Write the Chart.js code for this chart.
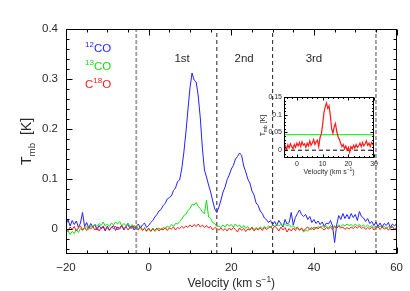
<!DOCTYPE html>
<html><head><meta charset="utf-8">
<script src="https://cdn.jsdelivr.net/npm/chart.js@4"></script>
<style>
html,body{margin:0;padding:0;background:#fff;}
#wrap{position:relative;width:410px;height:291px;overflow:hidden;}
#main{position:absolute;left:0;top:0;}
#inset{position:absolute;left:250px;top:88px;}
</style>
</head><body>
<div id="wrap"><canvas id="main" width="410" height="291"></canvas><canvas id="inset" width="130" height="90"></canvas></div>
<script>
// ---------- DATA ----------
const velocity = [-20,-19.5,-19,-18.5,-18,-17.5,-17,-16.5,-16,-15.5,-15,-14.5,-14,-13.5,-13,-12.5,-12,-11.5,-11,-10.5,-10,-9.5,-9,-8.5,-8,-7.5,-7,-6.5,-6,-5.5,-5,-4.5,-4,-3.5,-3,-2.5,-2,-1.5,-1,-0.5,0,0.5,1,1.5,2,2.5,3,3.5,4,4.5,5,5.5,6,6.5,7,7.5,8,8.5,9,9.5,10,10.5,11,11.5,12,12.5,13,13.5,14,14.5,15,15.5,16,16.5,17,17.5,18,18.5,19,19.5,20,20.5,21,21.5,22,22.5,23,23.5,24,24.5,25,25.5,26,26.5,27,27.5,28,28.5,29,29.5,30,30.5,31,31.5,32,32.5,33,33.5,34,34.5,35,35.5,36,36.5,37,37.5,38,38.5,39,39.5,40,40.5,41,41.5,42,42.5,43,43.5,44,44.5,45,45.5,46,46.5,47,47.5,48,48.5,49,49.5,50,50.5,51,51.5,52,52.5,53,53.5,54,54.5,55,55.5,56,56.5,57,57.5,58,58.5,59,59.5,60];

const co12 = [0.010,0.018,0.006,0.017,0.009,0.016,0.003,0.012,0.033,0.005,0.013,0.002,0.011,0.004,0.009,-0.002,0.007,0.001,0.004,-0.004,0.006,-0.002,0.003,0.007,-0.003,0.004,0.000,0.007,-0.002,0.005,0.009,0.001,0.006,-0.002,0.005,0.010,0.002,0.008,0.012,0.003,
0.007,0.013,0.017,0.024,0.029,0.036,0.039,0.047,0.051,0.060,0.063,0.066,0.077,0.082,0.095,0.098,0.120,0.152,0.192,0.238,0.282,0.312,0.298,0.294,0.266,0.222,0.162,0.118,0.104,0.088,0.074,0.056,0.040,0.033,0.044,0.058,0.074,0.084,0.099,0.108,
0.120,0.127,0.140,0.145,0.152,0.147,0.126,0.114,0.100,0.092,0.076,0.068,0.052,0.047,0.036,0.031,0.022,0.019,0.013,0.017,0.009,0.015,0.007,0.017,0.011,0.004,0.019,0.010,0.013,0.033,0.008,0.023,0.031,0.038,0.029,0.025,0.029,0.019,0.025,0.013,
0.019,0.011,0.016,0.009,0.014,0.005,0.012,0.010,0.017,0.006,-0.027,0.008,0.027,0.019,0.031,0.021,0.029,0.020,0.031,0.023,0.029,0.017,0.035,0.025,0.022,0.015,0.021,0.011,0.015,0.007,0.014,0.005,0.012,0.004,0.011,0.007,0.013,0.003,0.010,0.006,0.011];

const co13 = [-0.008,-0.003,-0.011,-0.005,-0.009,-0.001,-0.007,0.001,-0.003,0.003,0.005,-0.001,0.007,0.004,0.009,0.005,0.011,0.007,0.014,0.006,0.010,0.005,0.012,0.008,0.014,0.010,0.015,0.006,0.011,0.007,0.012,0.004,0.009,0.002,0.007,0.000,0.005,-0.003,0.003,-0.005,
0.001,-0.004,0.002,-0.005,-0.001,0.002,-0.002,0.003,0.000,0.006,0.003,0.009,0.005,0.011,0.010,0.015,0.019,0.027,0.029,0.037,0.041,0.049,0.048,0.053,0.045,0.041,0.034,0.031,0.058,0.024,0.021,0.013,0.011,0.005,0.006,0.003,0.008,0.004,0.010,0.006,
0.009,0.004,0.010,0.005,0.008,0.002,0.007,0.001,0.005,-0.002,0.004,-0.001,0.003,0.000,0.004,0.001,0.005,0.002,0.006,0.003,0.008,0.005,0.009,0.006,0.010,0.007,0.011,0.006,0.009,0.004,0.007,0.001,0.004,-0.003,0.001,-0.006,-0.002,-0.004,0.001,-0.001,
0.004,0.001,0.005,0.002,0.006,0.003,0.006,0.002,0.007,0.003,0.006,0.004,0.008,0.005,0.009,0.006,0.010,0.007,0.009,0.005,0.010,0.006,0.009,0.005,0.008,0.004,0.008,0.004,0.007,0.003,0.006,0.002,0.006,0.003,0.005,0.001,0.005,0.002,0.004,0.000,0.003];

const c18o = [0.002,-0.003,0.004,-0.001,0.005,-0.004,0.002,0.006,-0.002,0.003,-0.003,0.004,0.000,0.005,-0.002,0.003,-0.004,0.002,0.006,-0.001,0.003,-0.003,0.004,0.001,0.006,-0.002,0.003,0.007,0.000,0.005,-0.002,0.004,0.001,0.007,0.002,-0.002,0.004,-0.003,0.001,-0.004,
0.002,-0.005,0.000,-0.003,0.002,-0.004,0.001,-0.002,0.003,-0.003,0.002,0.000,0.004,-0.002,0.003,0.001,0.005,0.002,0.006,0.003,0.008,0.004,0.009,0.005,0.010,0.004,0.008,0.003,0.007,0.002,0.005,-0.002,0.003,0.001,-0.002,0.002,-0.003,0.001,-0.004,0.002,
-0.002,0.003,-0.001,-0.006,0.002,-0.003,0.001,-0.005,0.000,-0.002,0.003,-0.004,0.001,-0.002,0.002,-0.003,0.003,-0.001,0.002,0.005,0.000,0.006,0.002,-0.004,0.004,-0.002,0.003,-0.006,0.001,-0.004,0.002,-0.003,0.003,-0.002,0.002,-0.004,0.001,0.004,-0.001,0.003,
-0.002,0.004,0.000,0.005,0.001,-0.002,0.003,0.000,0.004,-0.001,0.005,0.001,0.006,0.002,0.004,-0.001,0.003,0.000,0.004,0.001,0.005,0.002,0.006,0.001,0.004,-0.001,0.003,0.000,0.004,-0.002,0.003,0.005,-0.001,0.004,0.000,0.003,-0.002,0.002,0.005,-0.001,0.002];

const boundaries = [-3, 16.5, 30, 55];
const regionNames = ['1st', '2nd', '3rd'];
const regionLabelV = [8.1, 23.1, 40];
const regionLabelT = 0.334;

const xTickLabels = [-20, 0, 20, 40, 60];
const xMinorTicks = [-15,-10,-5,5,10,15,25,30,35,45,50,55];
const yTickLabels = [0, 0.1, 0.2, 0.3, 0.4];
const yMinorTicks = [-0.04,-0.02,0.02,0.04,0.06,0.08,0.12,0.14,0.16,0.18,0.22,0.24,0.26,0.28,0.32,0.34,0.36,0.38];

// inset
const insetVelocity = [-5,-4.5,-4,-3.5,-3,-2.5,-2,-1.5,-1,-0.5,0,0.5,1,1.5,2,2.5,3,3.5,4,4.5,5,5.5,6,6.5,7,7.5,8,8.5,9,9.5,10,10.5,11,11.5,12,12.5,13,13.5,14,14.5,15,15.5,16,16.5,17,17.5,18,18.5,19,19.5,20,20.5,21,21.5,22,22.5,23,23.5,24,24.5,25,25.5,26,26.5,27,27.5,28,28.5,29,29.5,30];
const insetC18O = [-0.018,0.012,0.002,0.015,0.006,0.018,0.010,0.004,0.016,0.008,0.020,0.012,0.022,0.010,0.024,0.014,0.018,0.008,0.020,0.012,0.026,0.014,0.020,0.030,0.016,0.024,0.028,0.010,0.036,0.046,0.072,0.105,0.122,0.133,0.118,0.125,0.098,0.060,0.048,0.066,0.075,0.052,0.038,0.030,0.020,0.010,0.016,0.004,0.012,0.000,0.008,-0.006,0.010,0.004,0.014,0.006,0.016,0.008,0.012,0.020,0.010,0.022,0.012,0.018,0.026,0.014,0.020,0.010,0.022,0.016,0.024];
const insetThreshold = 0.044;
const insetXTickLabels = [0, 10, 20, 30];
const insetXMinorTicks = [-4,-2,2,4,6,8,12,14,16,18,22,24,26,28];
const insetYTickLabels = [0, 0.05, 0.1, 0.15];
const insetYMinorTicks = [-0.01,0.01,0.02,0.03,0.04,0.06,0.07,0.08,0.09,0.11,0.12,0.13,0.14];

// ---------- STYLE ----------
const FONT = 'Liberation Sans';
const BLUE = '#2222ff', GREEN = '#11dd11', RED = '#ff1a1a';
const TEXT = '#2a2a2a';

function pts(xs, ys){ return xs.map((v,i)=>({x:v, y:ys[i]})); }
function fmt(v){ return (v<0 ? '\u2212' : '') + String(Math.abs(v)); }

function richText(ctx, parts, x, y, size, align){
  let w = 0;
  parts.forEach(p=>{ ctx.font = (p.s ? size*0.7 : size) + 'px "' + FONT + '"'; w += ctx.measureText(p.t).width; });
  let cx = align === 'center' ? x - w/2 : x;
  ctx.textAlign = 'left'; ctx.textBaseline = 'alphabetic';
  parts.forEach(p=>{
    const fs = p.s ? size*0.7 : size;
    ctx.font = fs + 'px "' + FONT + '"';
    const dy = p.s === 'sup' ? -size*0.45 : (p.s === 'sub' ? size*0.28 : 0);
    ctx.fillText(p.t, cx, y + dy);
    cx += ctx.measureText(p.t).width;
  });
}

const frameTicks = {
  id: 'frameTicks',
  afterDatasetsDraw(chart, args, o){
    const {ctx, chartArea:a, scales:{x, y}} = chart;
    ctx.save();
    ctx.strokeStyle = '#000'; ctx.lineWidth = 1;
    const L = Math.round(a.left)+0.5, R = Math.round(a.right)-0.5, T = Math.round(a.top)+0.5, B = Math.round(a.bottom)-0.5;
    ctx.strokeRect(L, T, R-L, B-T);
    ctx.beginPath();
    const xt = (vals, len)=>vals.forEach(v=>{ const p = Math.round(x.getPixelForValue(v))+0.5; ctx.moveTo(p,B); ctx.lineTo(p,B-len); ctx.moveTo(p,T); ctx.lineTo(p,T+len); });
    const yt = (vals, len)=>vals.forEach(v=>{ const p = Math.round(y.getPixelForValue(v))+0.5; ctx.moveTo(L,p); ctx.lineTo(L+len,p); ctx.moveTo(R,p); ctx.lineTo(R-len,p); });
    xt(o.xMajor, o.major); xt(o.xMinor, o.minor); yt(o.yMajor, o.major); yt(o.yMinor, o.minor);
    ctx.stroke();
    ctx.restore();
  }
};

const mainText = {
  id: 'mainText',
  afterDraw(chart){
    const {ctx, scales:{x, y}, chartArea:a} = chart;
    ctx.save();
    ctx.fillStyle = BLUE;  richText(ctx, [{t:'12', s:'sup'}, {t:'CO'}], 85, 52, 11.5, 'left');
    ctx.fillStyle = GREEN; richText(ctx, [{t:'13', s:'sup'}, {t:'CO'}], 85, 70, 11.5, 'left');
    ctx.fillStyle = RED;   richText(ctx, [{t:'C'}, {t:'18', s:'sup'}, {t:'O'}], 85, 88, 11.5, 'left');
    ctx.fillStyle = TEXT;
    regionNames.forEach((n,i)=>{ richText(ctx, [{t:n}], x.getPixelForValue(regionLabelV[i]), y.getPixelForValue(regionLabelT), 11.5, 'center'); });
    richText(ctx, [{t:'Velocity (km s'}, {t:'\u22121', s:'sup'}, {t:')'}], (a.left+a.right)/2, 287, 12, 'center');
    ctx.translate(31, (a.top+a.bottom)/2);
    ctx.rotate(-Math.PI/2);
    richText(ctx, [{t:'T'}, {t:'mb', s:'sub'}, {t:'  [K]'}], 0, 0, 14, 'center');
    ctx.restore();
  }
};

const insetText = {
  id: 'insetText',
  afterDraw(chart){
    const {ctx, chartArea:a} = chart;
    ctx.save();
    ctx.fillStyle = TEXT;
    richText(ctx, [{t:'Velocity (km s'}, {t:'\u22121', s:'sup'}, {t:')'}], (a.left+a.right)/2, 86, 7, 'center');
    ctx.translate(15, (a.top+a.bottom)/2 - 2);
    ctx.rotate(-Math.PI/2);
    richText(ctx, [{t:'T'}, {t:'mb', s:'sub'}, {t:' [K]'}], 0, 0, 7, 'center');
    ctx.restore();
  }
};

const lineDs = (label, data, color, order, extra)=>Object.assign({label, data, borderColor:color, borderWidth:1, pointRadius:0, tension:0, fill:false, order}, extra||{});

const boundaryDatasets = boundaries.map((b,i)=>{
  const outer = (i===0 || i===boundaries.length-1);
  return lineDs('b'+i, [{x:b, y:-0.05}, {x:b, y:0.4}], outer ? '#999' : '#222', 5, {borderDash: outer ? [4,2] : [4,3], borderWidth: outer ? 1.8 : 1});
});

Chart.defaults.font.family = FONT;
Chart.defaults.color = TEXT;
Chart.defaults.animation = false;

new Chart(document.getElementById('main'), {
  type: 'line',
  data: { datasets: [
    ...boundaryDatasets,
    lineDs('12CO', pts(velocity, co12), BLUE, 3),
    lineDs('13CO', pts(velocity, co13), GREEN, 2),
    lineDs('C18O', pts(velocity, c18o), RED, 1)
  ]},
  options: {
    responsive: false, animation: false, events: [],
    layout: { padding: { top: 29, right: 8, left: 0, bottom: 0 } },
    plugins: { legend:{display:false}, tooltip:{enabled:false},
      frameTicks: { xMajor: xTickLabels, xMinor: xMinorTicks, yMajor: yTickLabels, yMinor: yMinorTicks, major: 6, minor: 3 } },
    scales: {
      x: { type:'linear', min:-20, max:60,
        grid:{display:false, drawTicks:false}, border:{display:false},
        afterBuildTicks: s=>{ s.ticks = xTickLabels.map(v=>({value:v})); },
        afterFit: s=>{ s.height = 37; },
        ticks:{ padding:7, font:{size:11.5}, color:TEXT, maxRotation:0, callback: v=>fmt(v) } },
      y: { type:'linear', min:-0.05, max:0.4,
        grid:{display:false, drawTicks:false}, border:{display:false},
        afterBuildTicks: s=>{ s.ticks = yTickLabels.map(v=>({value:v})); },
        afterFit: s=>{ s.width = 66; },
        ticks:{ padding:8, font:{size:11.5}, color:TEXT, callback: v=>fmt(v) } }
    }
  },
  plugins: [frameTicks, mainText]
});

new Chart(document.getElementById('inset'), {
  type: 'line',
  data: { datasets: [
    lineDs('zero', [{x:-5, y:0}, {x:30, y:0}], '#000', 3, {borderDash:[4,3]}),
    lineDs('thr', [{x:-5, y:insetThreshold}, {x:30, y:insetThreshold}], '#33ee33', 2, {borderWidth:1.3}),
    lineDs('C18O', pts(insetVelocity, insetC18O), RED, 1, {borderWidth:1.2})
  ]},
  options: {
    responsive: false, animation: false, events: [],
    layout: { padding: { top: 9, right: 4, left: 0, bottom: 0 } },
    plugins: { legend:{display:false}, tooltip:{enabled:false},
      frameTicks: { xMajor: insetXTickLabels, xMinor: insetXMinorTicks, yMajor: insetYTickLabels, yMinor: insetYMinorTicks, major: 3, minor: 1.5 } },
    scales: {
      x: { type:'linear', min:-5, max:30,
        grid:{display:false, drawTicks:false}, border:{display:false},
        afterBuildTicks: s=>{ s.ticks = insetXTickLabels.map(v=>({value:v})); },
        afterFit: s=>{ s.height = 20; },
        ticks:{ padding:2, font:{size:7}, color:TEXT, maxRotation:0, callback: v=>fmt(v) } },
      y: { type:'linear', min:-0.022, max:0.15,
        grid:{display:false, drawTicks:false}, border:{display:false},
        afterBuildTicks: s=>{ s.ticks = insetYTickLabels.map(v=>({value:v})); },
        afterFit: s=>{ s.width = 34; },
        ticks:{ padding:2, font:{size:7}, color:TEXT, callback: v=>fmt(v) } }
    }
  },
  plugins: [frameTicks, insetText]
});
</script>
</body></html>
